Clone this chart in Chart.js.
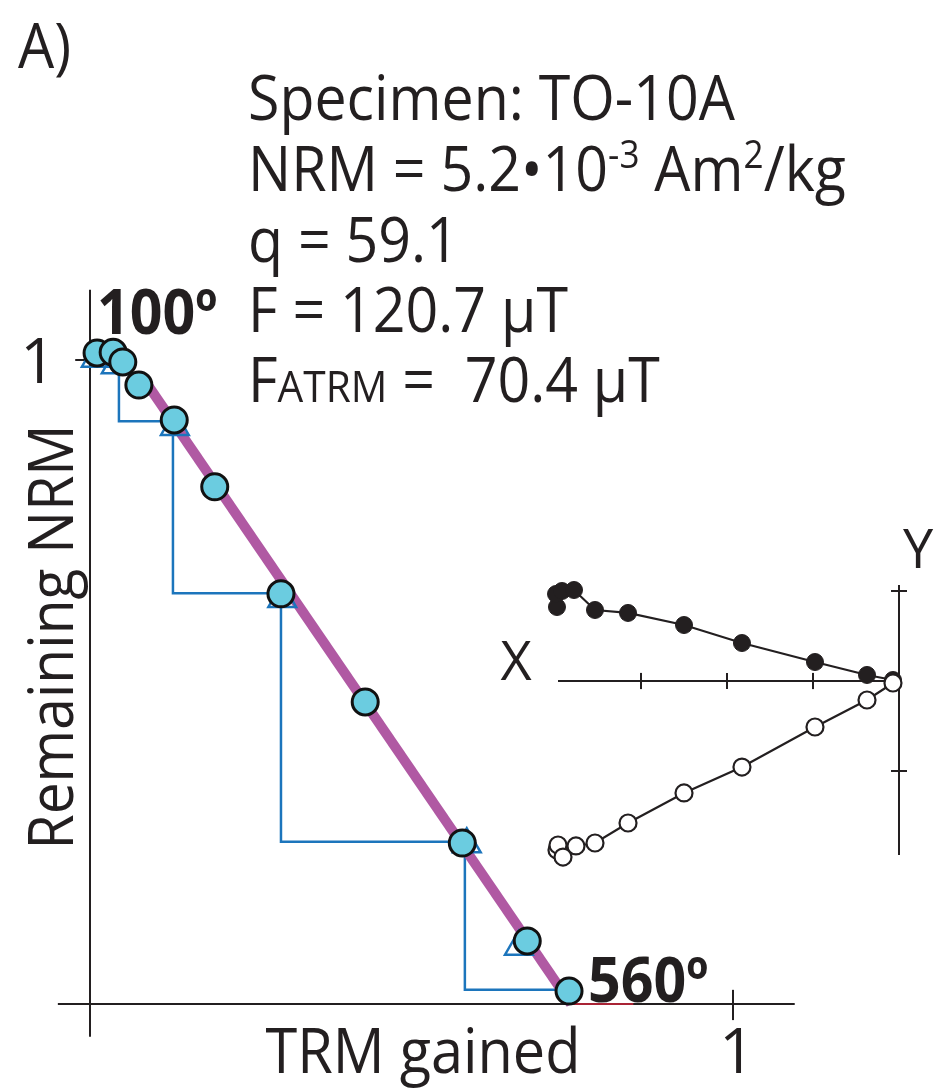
<!DOCTYPE html>
<html>
<head>
<meta charset="utf-8">
<title>TO-10A Arai plot</title>
<script src="https://cdn.jsdelivr.net/npm/chart.js@4.4.0/dist/chart.umd.min.js"></script>
<style>
	body { margin: 0; background: #ffffff; }
	#wrap { width: 934px; height: 1090px; }
</style>
</head>
<body>
<div id="wrap"><canvas id="arai" width="934" height="1090"></canvas></div>
<script>
// arai diagram: fraction of TRM gained vs fraction of NRM remaining
const trmGained = [0.011, 0.036, 0.051, 0.076, 0.131, 0.194, 0.297, 0.428, 0.579, 0.68, 0.745];
const nrmRemaining = [1.011, 1.012, 0.997, 0.961, 0.907, 0.803, 0.637, 0.469, 0.25, 0.098, 0.02];

// pTRM checks (triangles)
const checkTrm = [0.009, 0.04, 0.132, 0.299, 0.586, 0.667];
const checkNrm = [1.002, 0.992, 0.896, 0.629, 0.248, 0.089];

// step lines drawn from each check down and across to its step
const checkPathX = [
	[0.045, 0.045, 0.131],
	[0.129, 0.129, 0.297],
	[0.297, 0.297, 0.579],
	[0.583, 0.583, 0.745],
];
const checkPathY = [
	[0.98, 0.905, 0.905],
	[0.887, 0.638, 0.638],
	[0.637, 0.252, 0.252],
	[0.242, 0.022, 0.022],
];

// best fit line
const fitX = [0.09, 0.748];
const fitY = [0.961, 0.0];

// first and last step temperatures
const stepLabels = ["100º", "560º"];

// zijderveld inset, in tick units (solid = horizontal, open = vertical)
const zijX = [3.977, 3.988, 3.919, 3.779, 3.535, 3.151, 2.5, 1.826, 0.977, 0.372, 0.07];
const zijHoriz = [0.822, 0.967, 1.0, 1.011, 0.789, 0.756, 0.622, 0.422, 0.211, 0.067, 0.011];
const zijXv = [3.977, 3.965, 3.907, 3.756, 3.535, 3.151, 2.5, 1.826, 0.977, 0.372, 0.07];
const zijVert = [-1.878, -1.822, -1.956, -1.833, -1.8, -1.578, -1.244, -0.956, -0.511, -0.211, -0.022];

const infoLines = ["Specimen: TO-10A", "q = 59.1", "F = 120.7 µT"];

const ink = "#231f20";
const cyan = "#6bcce0";
const blue = "#1c75bc";
const magenta = "#b059a3";

function pts(xs, ys) {
	return xs.map((v, i) => ({ x: v, y: ys[i] }));
}

function seg(ctx, sx, sy, x0, y0, x1, y1) {
	ctx.beginPath();
	ctx.moveTo(sx.getPixelForValue(x0), sy.getPixelForValue(y0));
	ctx.lineTo(sx.getPixelForValue(x1), sy.getPixelForValue(y1));
	ctx.stroke();
}

// axes for both plots
const axesPlugin = {
	id: "axes",
	beforeDatasetsDraw(chart) {
		const ctx = chart.ctx;
		const s = chart.scales;
		ctx.save();
		ctx.strokeStyle = ink;
		ctx.lineWidth = 2;
		seg(ctx, s.x, s.y, -0.05, 0, 1.096, 0);
		seg(ctx, s.x, s.y, 0, -0.051, 0, 1.109);
		seg(ctx, s.x, s.y, -0.023, 1, 0, 1);
		seg(ctx, s.x, s.y, 1, -0.025, 1, 0.022);

		seg(ctx, s.zx, s.zy, 3.965, 0, 0, 0);
		seg(ctx, s.zx, s.zy, 0, 1.067, 0, -1.933);
		for (let t = 1; t <= 3; t++) {
			seg(ctx, s.zx, s.zy, t, 0.09, t, -0.09);
		}
		seg(ctx, s.zx, s.zy, 0.093, 1, -0.093, 1);
		seg(ctx, s.zx, s.zy, 0.093, -1, -0.093, -1);
		ctx.restore();
	},
};

// draws a line of text made of runs, squeezed horizontally by sx
function drawRuns(ctx, runs, left, base, sx) {
	ctx.save();
	ctx.translate(left, base);
	ctx.scale(sx, 1);
	let cx = 0;
	for (const r of runs) {
		ctx.font = (r.bold ? "bold " : "") + r.size + "px 'Open Sans'";
		ctx.fillText(r.t, cx, r.dy || 0);
		cx += ctx.measureText(r.t).width;
	}
	ctx.restore();
}

const textPlugin = {
	id: "texts",
	afterDraw(chart) {
		const ctx = chart.ctx;
		const sx = chart.scales.x;
		const sy = chart.scales.y;
		ctx.save();
		ctx.fillStyle = ink;
		ctx.textBaseline = "alphabetic";

		ctx.font = "62px 'Open Sans'";
		const squeeze = 487 / ctx.measureText(infoLines[0]).width;

		drawRuns(ctx, [{ t: "A)", size: 62 }], 18, 68, squeeze);

		drawRuns(ctx, [{ t: infoLines[0], size: 62 }], 248, 120, squeeze);
		drawRuns(ctx, [
			{ t: "NRM = 5.2•10", size: 62 },
			{ t: "-3", size: 38, dy: -23 },
			{ t: " Am", size: 62 },
			{ t: "2", size: 38, dy: -23 },
			{ t: "/kg", size: 62 },
		], 248, 191, squeeze);
		drawRuns(ctx, [{ t: infoLines[1], size: 62 }], 248, 262, squeeze);
		drawRuns(ctx, [{ t: infoLines[2], size: 62 }], 248, 332, squeeze);
		drawRuns(ctx, [
			{ t: "F", size: 62 },
			{ t: "ATRM", size: 44 },
			{ t: " =  70.4 µT", size: 62 },
		], 248, 402, squeeze);

		// step temperatures
		const p0x = sx.getPixelForValue(trmGained[0]);
		const p0y = sy.getPixelForValue(nrmRemaining[0]);
		drawRuns(ctx, [{ t: stepLabels[0], size: 62, bold: true }], p0x, p0y - 19, squeeze);
		const n = trmGained.length - 1;
		const p1x = sx.getPixelForValue(trmGained[n]);
		const p1y = sy.getPixelForValue(nrmRemaining[n]);
		drawRuns(ctx, [{ t: stepLabels[1], size: 62, bold: true }], p1x + 19, p1y + 11, squeeze);

		// axis labels
		ctx.font = "62px 'Open Sans'";
		ctx.textAlign = "center";
		ctx.fillText("1", sx.getPixelForValue(0) - 52, sy.getPixelForValue(1) + 23);
		ctx.fillText("1", sx.getPixelForValue(1) + 4, 1073);
		ctx.fillText("TRM gained", 423, 1073, 315);

		ctx.save();
		ctx.translate(73, 637);
		ctx.rotate(-Math.PI / 2);
		ctx.fillText("Remaining NRM", 0, 0, 425);
		ctx.restore();

		ctx.font = "54px 'Open Sans'";
		ctx.fillText("X", 516, 680, 34);
		ctx.fillText("Y", 918, 568, 32);
		ctx.restore();
	},
};

function pathDataset(i) {
	return {
		data: pts(checkPathX[i], checkPathY[i]),
		showLine: true,
		borderColor: blue,
		borderWidth: 2.5,
		pointRadius: 0,
		fill: false,
		order: 6,
	};
}

let araiChart = new Chart(document.getElementById("arai").getContext("2d"), {
	type: "scatter",
	data: {
		datasets: [
			{
				label: "vertical",
				data: pts(zijXv, zijVert),
				xAxisID: "zx",
				yAxisID: "zy",
				showLine: true,
				borderColor: ink,
				borderWidth: 2.2,
				pointRadius: 8.5,
				pointBackgroundColor: "#ffffff",
				pointBorderColor: ink,
				pointBorderWidth: 2.2,
				order: 1,
			},
			{
				label: "horizontal",
				data: pts(zijX, zijHoriz),
				xAxisID: "zx",
				yAxisID: "zy",
				showLine: true,
				borderColor: ink,
				borderWidth: 2.2,
				pointRadius: 8.5,
				pointBackgroundColor: ink,
				pointBorderColor: ink,
				pointBorderWidth: 1,
				order: 2,
			},
			{
				label: "NRM/TRM",
				data: pts(trmGained, nrmRemaining),
				pointRadius: 13,
				pointBackgroundColor: cyan,
				pointBorderColor: "#111111",
				pointBorderWidth: 3,
				order: 3,
			},
			{
				label: "pTRM check",
				data: pts(checkTrm, checkNrm),
				pointStyle: "triangle",
				pointRadius: 16,
				pointBackgroundColor: "rgba(0,0,0,0)",
				pointBorderColor: blue,
				pointBorderWidth: 2.5,
				order: 4,
			},
			{
				label: "fit",
				data: pts(fitX, fitY),
				showLine: true,
				borderColor: magenta,
				borderWidth: 10,
				pointRadius: 0,
				order: 5,
			},
			pathDataset(0),
			pathDataset(1),
			pathDataset(2),
			pathDataset(3),
			{
				label: "trm mark",
				data: pts([0.748, 0.845], [0, 0]),
				showLine: true,
				borderColor: "#d7263d",
				borderWidth: 1.5,
				pointRadius: 0,
				order: 7,
			},
		],
	},
	options: {
		responsive: false,
		animation: false,
		events: [],
		layout: { padding: 0, autoPadding: false },
		scales: {
			x: { type: "linear", min: -0.13997, max: 1.3126, display: false },
			y: { type: "linear", min: -0.13354, max: 1.55901, display: false },
			zx: { type: "linear", axis: "x", reverse: true, min: -0.40698, max: 10.4535, display: false },
			zy: { type: "linear", axis: "y", min: -4.5444, max: 7.5667, display: false },
		},
		plugins: {
			legend: { display: false },
			title: { display: false },
			tooltip: { enabled: false },
		},
	},
	plugins: [axesPlugin, textPlugin],
});
</script>
</body>
</html>
